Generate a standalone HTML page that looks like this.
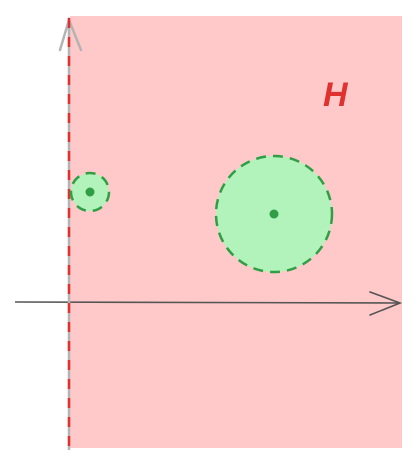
<!DOCTYPE html>
<html><head><meta charset="utf-8"><style>
html,body{margin:0;padding:0;background:#fff;width:418px;height:461px;overflow:hidden}
svg{display:block}
</style></head><body>
<svg id="chart" width="418" height="461" viewBox="0 0 418 461">
  <rect x="70" y="16" width="332" height="432" fill="#ffc9c9"/>
  <line x1="15" y1="302" x2="400" y2="303" stroke="#555" stroke-width="1.6"/>
  <polyline points="370,292 400,303 370,315" fill="none" stroke="#555" stroke-width="1.6" stroke-linecap="round"/>
  <line x1="69" y1="18" x2="69" y2="450" stroke="#b4b4b4" stroke-width="2.5"/>
  <polyline points="60,50 69,20 81,50" fill="none" stroke="#b4b4b4" stroke-width="2.5" stroke-linecap="round"/>
  <line x1="69" y1="18" x2="69" y2="450" stroke="#e03131" stroke-width="2.5" stroke-dasharray="10,9"/>
  <g id="circles"></g>
  <text x="323" y="106" font-family="Liberation Sans, sans-serif" font-size="34" font-style="italic" font-weight="bold" fill="#e03131">H</text>
</svg>
<script>
const circleX = [90, 274];
const circleY = [192, 214];
const circleR = [19, 58];
const g = document.getElementById('circles');
const ns = 'http://www.w3.org/2000/svg';
for (let i = 0; i < circleX.length; i++) {
  const c = document.createElementNS(ns, 'circle');
  c.setAttribute('cx', circleX[i]); c.setAttribute('cy', circleY[i]); c.setAttribute('r', circleR[i]);
  c.setAttribute('fill', '#b2f2bb'); c.setAttribute('stroke', '#2f9e44');
  c.setAttribute('stroke-width', '2.5'); c.setAttribute('stroke-dasharray', '10,7');
  
  
  g.appendChild(c);
  const d = document.createElementNS(ns, 'circle');
  d.setAttribute('cx', circleX[i]); d.setAttribute('cy', circleY[i]); d.setAttribute('r', 4.5);
  d.setAttribute('fill', '#2f9e44');
  
  
  g.appendChild(d);
}
</script>
</body></html>
